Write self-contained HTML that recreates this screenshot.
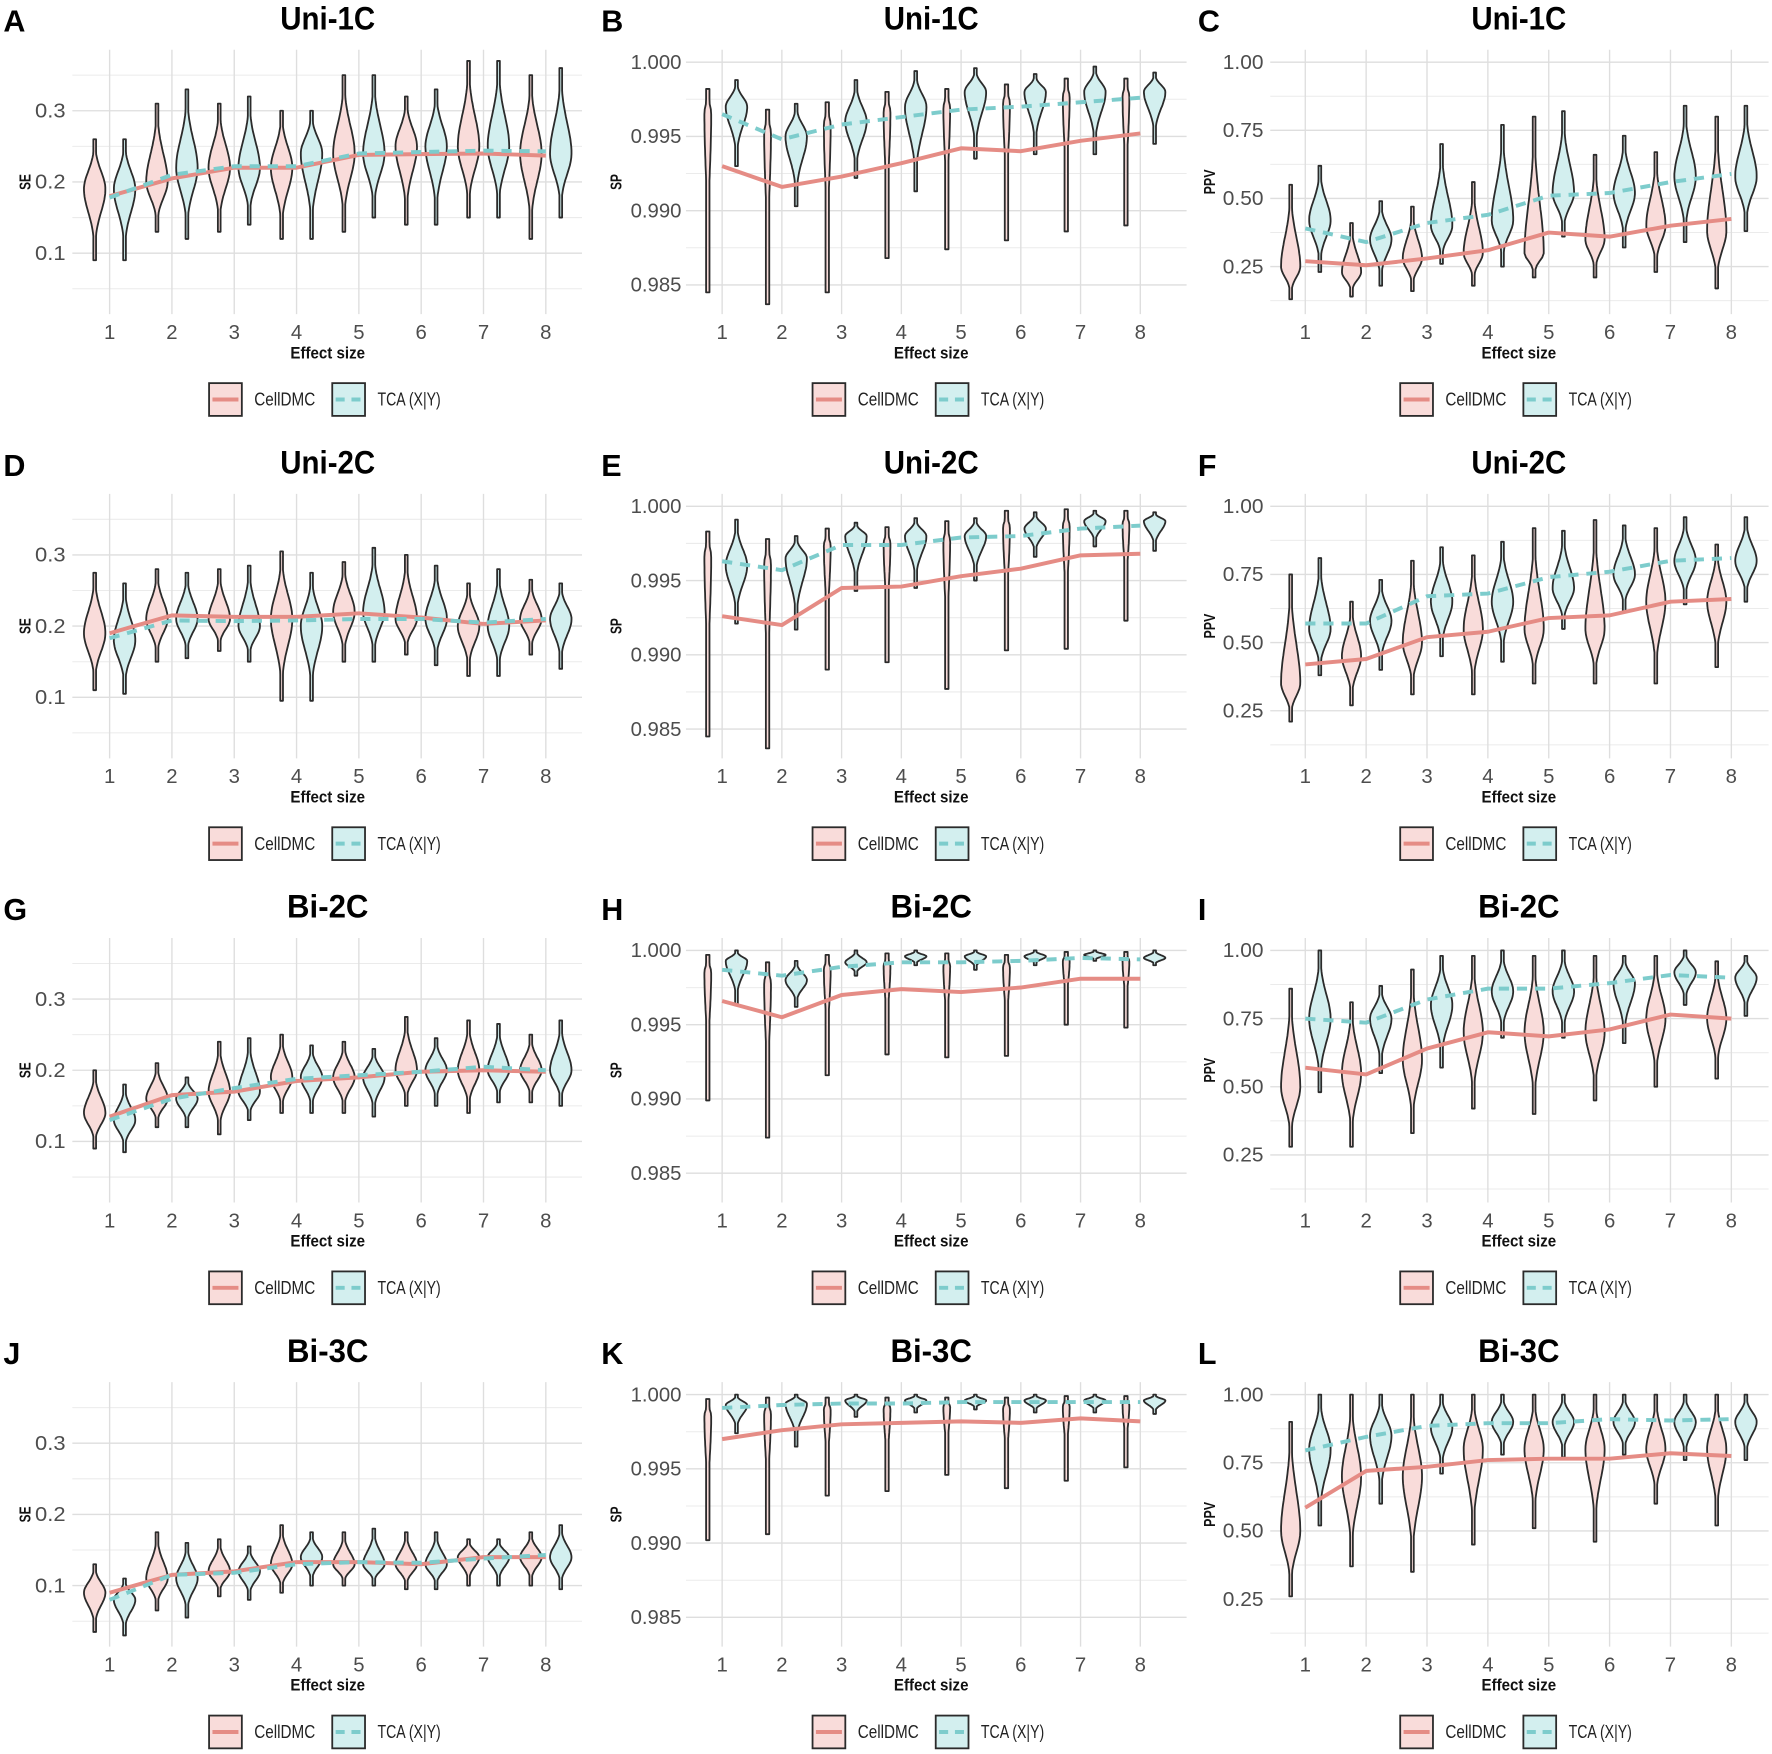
<!DOCTYPE html>
<html><head><meta charset="utf-8"><style>
html,body{margin:0;padding:0;background:#fff}
svg{display:block}
text{font-family:"Liberation Sans Narrow","Liberation Sans",sans-serif}
</style></head><body>
<svg id="s" width="1772" height="1754" viewBox="0 0 1568 1552" preserveAspectRatio="none" xmlns="http://www.w3.org/2000/svg"></svg>
<script>
const S=document.getElementById('s');let out='';
const cols=[
 {x1:97,step:55.14,gl:64,gr:515,tc:290,lx:3,ylx:58,ytx:22,lg:185},
 {x1:639,step:52.86,gl:607,gr:1050,tc:824,lx:532,ylx:603,ytx:545,lg:719},
 {x1:1155,step:53.86,gl:1124,gr:1565,tc:1344,lx:1060,ylx:1118,ytx:1070,lg:1239}];
const types={
 SE:{f:v=>161-(v-0.2)*630,maj:[[0.1,'0.1'],[0.2,'0.2'],[0.3,'0.3']],min:[0.05,0.15,0.25,0.35],name:'SE',tl:14},
 SP:{f:v=>55+(1-v)*13140,maj:[[1,'1.000'],[0.995,'0.995'],[0.99,'0.990'],[0.985,'0.985']],min:[0.9975,0.9925,0.9875],name:'SP',tl:14},
 PPV:{f:v=>55+(1-v)*241.2,maj:[[1,'1.00'],[0.75,'0.75'],[0.5,'0.50'],[0.25,'0.25']],min:[0.875,0.625,0.375,0.125],name:'PPV',tl:22}};
const P=[
 ['A','Uni-1C','SE',
  [[.09,.26,.19],[.13,.31,.2],[.13,.31,.22],[.12,.30,.22],[.13,.35,.24],[.14,.32,.25],[.15,.37,.25],[.12,.35,.24]],
  [[.09,.26,.19],[.12,.33,.22],[.14,.32,.22],[.12,.30,.24],[.15,.35,.24],[.14,.33,.25],[.15,.37,.25],[.15,.36,.24]],
  [.18,.205,.22,.22,.238,.239,.24,.237],[.178,.21,.222,.222,.24,.242,.244,.243]],
 ['B','Uni-1C','SP',
  [[.9845,.9982],[.9837,.9968],[.9845,.9973],[.9868,.9980],[.9874,.9982],[.9880,.9985],[.9886,.9989],[.9890,.9989]],
  [[.993,.9988,.997],[.9903,.9972,.995],[.9922,.9988,.996],[.9913,.9994,.997],[.9935,.9996,.998],[.9938,.9992,.998],[.9938,.9997,.998],[.9945,.9993,.998]],
  [.993,.9916,.9923,.9932,.9942,.9940,.9947,.9952],[.9965,.9948,.9958,.9963,.9968,.9970,.9973,.9976]],
 ['C','Uni-1C','PPV',
  [[.13,.55,.25],[.14,.41,.23],[.16,.47,.28],[.18,.56,.30],[.21,.80,.30],[.21,.66,.35],[.23,.67,.4],[.17,.80,.38]],
  [[.23,.62,.42],[.18,.49,.35],[.26,.70,.40],[.25,.77,.42],[.36,.82,.52],[.32,.73,.52],[.34,.84,.58],[.38,.84,.58]],
  [.27,.255,.28,.31,.375,.36,.40,.425],[.39,.34,.41,.44,.51,.52,.56,.59]],
 ['D','Uni-2C','SE',
  [[.11,.275,.19],[.15,.28,.21],[.165,.28,.21],[.095,.305,.21],[.15,.29,.22],[.16,.30,.21],[.13,.26,.20],[.16,.265,.21]],
  [[.105,.26,.18],[.155,.275,.21],[.15,.285,.20],[.095,.275,.20],[.15,.31,.22],[.145,.285,.21],[.13,.28,.20],[.14,.26,.21]],
  [.19,.215,.213,.213,.218,.212,.203,.208],[.183,.208,.207,.208,.21,.21,.205,.21]],
 ['E','Uni-2C','SP',
  [[.9845,.9983],[.9837,.9978],[.9890,.9985],[.9895,.9986],[.9877,.9990],[.9903,.9997],[.9904,.9998],[.9923,.9997]],
  [[.9921,.9991,.996],[.9917,.9980,.9965],[.9943,.9989,.998],[.9945,.9992,.998],[.9950,.9992,.998],[.9966,.9996,.9985],[.9973,.9997,.999],[.9970,.9996,.999]],
  [.9926,.9920,.9945,.9946,.9953,.9958,.9967,.9968],[.9963,.9957,.9974,.9974,.9979,.9980,.9985,.9987]],
 ['F','Uni-2C','PPV',
  [[.21,.75,.35],[.27,.65,.45],[.31,.80,.50],[.31,.82,.55],[.35,.92,.55],[.35,.95,.55],[.35,.92,.65],[.41,.86,.65]],
  [[.38,.81,.55],[.40,.73,.58],[.45,.85,.65],[.43,.87,.65],[.55,.91,.70],[.61,.93,.75],[.64,.96,.80],[.65,.96,.80]],
  [.42,.44,.52,.54,.59,.60,.65,.66],[.57,.57,.67,.68,.74,.76,.80,.81]],
 ['G','Bi-2C','SE',
  [[.09,.20,.14],[.12,.21,.16],[.11,.24,.17],[.14,.25,.19],[.14,.24,.19],[.15,.275,.2],[.14,.27,.2],[.155,.25,.2]],
  [[.085,.18,.13],[.12,.19,.16],[.13,.245,.17],[.14,.235,.19],[.135,.23,.19],[.15,.245,.2],[.155,.265,.2],[.15,.27,.2]],
  [.135,.165,.17,.185,.19,.198,.2,.198],[.13,.16,.175,.188,.193,.198,.205,.20]],
 ['H','Bi-2C','SP',
  [[.9899,.9997],[.9874,.9992],[.9916,.9997],[.9930,.9998],[.9928,.9998],[.9929,.9997],[.9950,.9999],[.9948,.9999]],
  [[.9963,1,.9993],[.9962,.9993,.998],[.9983,1,.9992],[.9990,1,.9996],[.9987,1,.9996],[.9990,1,.9996],[.9993,1,.9997],[.9990,1,.9995]],
  [.9966,.9955,.9970,.9974,.9972,.9975,.9981,.9981],[.9987,.9983,.9989,.9992,.9992,.9993,.9995,.9994]],
 ['I','Bi-2C','PPV',
  [[.28,.86,.5],[.28,.81,.55],[.33,.93,.6],[.42,.98,.7],[.40,.98,.7],[.45,.98,.7],[.50,.98,.75],[.53,.96,.75]],
  [[.48,1,.75],[.55,.87,.75],[.57,.98,.8],[.68,1,.85],[.68,1,.85],[.66,.98,.88],[.80,1,.92],[.76,.98,.9]],
  [.57,.545,.64,.70,.685,.71,.765,.75],[.75,.735,.82,.86,.86,.88,.91,.90]],
 ['J','Bi-3C','SE',
  [[.035,.13,.09],[.065,.175,.11],[.085,.165,.12],[.09,.185,.13],[.10,.175,.13],[.095,.175,.13],[.10,.165,.14],[.10,.175,.14]],
  [[.03,.11,.08],[.055,.16,.11],[.08,.155,.12],[.10,.175,.14],[.10,.18,.13],[.095,.175,.13],[.10,.165,.14],[.095,.185,.14]],
  [.09,.115,.12,.133,.133,.13,.14,.14],[.08,.115,.118,.13,.133,.132,.138,.143]],
 ['K','Bi-3C','SP',
  [[.9902,.9997],[.9906,.9998],[.9932,.9998],[.9935,.9998],[.9946,.9998],[.9937,.9998],[.9942,.9999],[.9951,.9999]],
  [[.9974,1,.9993],[.9965,1,.9994],[.9985,1,.9996],[.9988,1,.9996],[.9990,1,.9996],[.9988,1,.9996],[.9988,1,.9996],[.9987,1,.9996]],
  [.9970,.9976,.9980,.9981,.9982,.9981,.9984,.9982],[.9991,.9993,.9994,.9994,.9995,.9995,.9995,.9995]],
 ['L','Bi-3C','PPV',
  [[.26,.90,.5],[.37,1,.7],[.35,1,.7],[.45,1,.8],[.51,1,.8],[.46,1,.8],[.60,1,.8],[.52,1,.8]],
  [[.52,1,.8],[.60,1,.85],[.71,1,.88],[.78,1,.9],[.77,1,.9],[.78,1,.9],[.76,1,.9],[.76,1,.9]],
  [.585,.72,.735,.76,.765,.765,.785,.775],[.795,.845,.885,.895,.895,.91,.905,.91]]
];
function violin(cx,oy,yf,d,W,fill,thin){
  const ymin=oy+yf(d[0]),ymax=oy+yf(d[1]);let ym;
  if(d.length>2) ym=oy+yf(d[2]); else ym=ymax+(ymin-ymax)*0.12;
  const su=Math.max((ym-ymax)*0.5,1.5),sd=Math.max((ymin-ym)*0.45,1.5);
  const n=40,L=[],R=[];
  for(let i=0;i<=n;i++){const y=ymax+(ymin-ymax)*i/n;const s=y<ym?su:sd;
    let w=W*Math.exp(-Math.pow((y-ym)/s,2));w=Math.max(w,thin);L.push([cx-w,y]);R.push([cx+w,y]);}
  let p='M'+L.map(q=>q[0].toFixed(1)+','+q[1].toFixed(1)).join('L');
  p+='L'+R.reverse().map(q=>q[0].toFixed(1)+','+q[1].toFixed(1)).join('L')+'Z';
  return `<path d="${p}" fill="${fill}" stroke="#2b2b2b" stroke-width="1.6" stroke-linejoin="round"/>`;
}
P.forEach((pp,i)=>{
  const c=cols[i%3],oy=Math.floor(i/3)*393,T=types[pp[2]],f=T.f;
  const X=k=>c.x1+k*c.step;
  T.min.forEach(v=>out+=`<line x1="${c.gl}" x2="${c.gr}" y1="${oy+f(v)}" y2="${oy+f(v)}" stroke="#ebebeb" stroke-width="0.9"/>`);
  T.maj.forEach(m=>{const y=oy+f(m[0]);out+=`<line x1="${c.gl}" x2="${c.gr}" y1="${y}" y2="${y}" stroke="#dedede" stroke-width="1.2"/>`;
    out+=`<text x="${c.ylx}" y="${y+6}" text-anchor="end" font-size="18" fill="#4d4d4d" textLength="${m[1].length*9}" lengthAdjust="spacingAndGlyphs">${m[1]}</text>`;});
  for(let k=0;k<8;k++){const x=X(k);out+=`<line x1="${x}" x2="${x}" y1="${oy+44}" y2="${oy+278}" stroke="#dedede" stroke-width="1.2"/>`;
    out+=`<text x="${x}" y="${oy+300}" text-anchor="middle" font-size="18" fill="#4d4d4d">${k+1}</text>`;}
  const off=0.24*c.step;
  let Wp,Wt,thin=1.2;
  if(pp[2]=='SE'){Wp=9.5;Wt=9.5;}else if(pp[2]=='SP'){Wp=3;Wt=9.5;}else{Wp=8.5;Wt=9.5;}
  for(let k=0;k<8;k++){
    out+=violin(X(k)-off,oy,f,pp[3][k],Wp,'#f9dcda',pp[2]=='SP'?1.5:thin);
    out+=violin(X(k)+off,oy,f,pp[4][k],Wt,'#d3efef',thin);
  }
  const pl=a=>a.map((v,k)=>X(k).toFixed(1)+','+(oy+f(v)).toFixed(1)).join(' ');
  out+=`<polyline points="${pl(pp[5])}" fill="none" stroke="#e58c85" stroke-width="3.5" stroke-linejoin="round"/>`;
  out+=`<polyline points="${pl(pp[6])}" fill="none" stroke="#7dcccc" stroke-width="3.5" stroke-dasharray="9,7"/>`;
  out+=`<text x="${c.lx}" y="${oy+28}" font-size="27" font-weight="bold" fill="#000" style="font-family:'Liberation Sans',sans-serif">${pp[0]}</text>`;
  const tw=pp[1].startsWith('Uni')?84:72;
  out+=`<text x="${c.tc}" y="${oy+26}" text-anchor="middle" font-size="29" font-weight="bold" fill="#000" textLength="${tw}" lengthAdjust="spacingAndGlyphs">${pp[1]}</text>`;
  out+=`<text x="${c.tc}" y="${oy+317}" text-anchor="middle" font-size="15" font-weight="bold" fill="#111" textLength="66" lengthAdjust="spacingAndGlyphs">Effect size</text>`;
  out+=`<text transform="translate(${c.ytx+5},${oy+161}) rotate(-90)" text-anchor="middle" font-size="14" font-weight="bold" fill="#111" textLength="${T.tl}" lengthAdjust="spacingAndGlyphs">${T.name}</text>`;
  const lg=c.lg,ly=oy+339;
  out+=`<rect x="${lg}" y="${ly}" width="29" height="29" fill="#f9dcda" stroke="#2b2b2b" stroke-width="1.6"/>`;
  out+=`<line x1="${lg+3}" x2="${lg+26}" y1="${ly+14.5}" y2="${ly+14.5}" stroke="#e58c85" stroke-width="3.5"/>`;
  out+=`<text x="${lg+40}" y="${ly+20}" font-size="16" fill="#222" textLength="54" lengthAdjust="spacingAndGlyphs">CellDMC</text>`;
  out+=`<rect x="${lg+109}" y="${ly}" width="29" height="29" fill="#d3efef" stroke="#2b2b2b" stroke-width="1.6"/>`;
  out+=`<line x1="${lg+112}" x2="${lg+135}" y1="${ly+14.5}" y2="${ly+14.5}" stroke="#7dcccc" stroke-width="3.5" stroke-dasharray="8,6"/>`;
  out+=`<text x="${lg+149}" y="${ly+20}" font-size="16" fill="#222" textLength="56" lengthAdjust="spacingAndGlyphs">TCA (X|Y)</text>`;
});
S.innerHTML=out;
</script>
</body></html>
